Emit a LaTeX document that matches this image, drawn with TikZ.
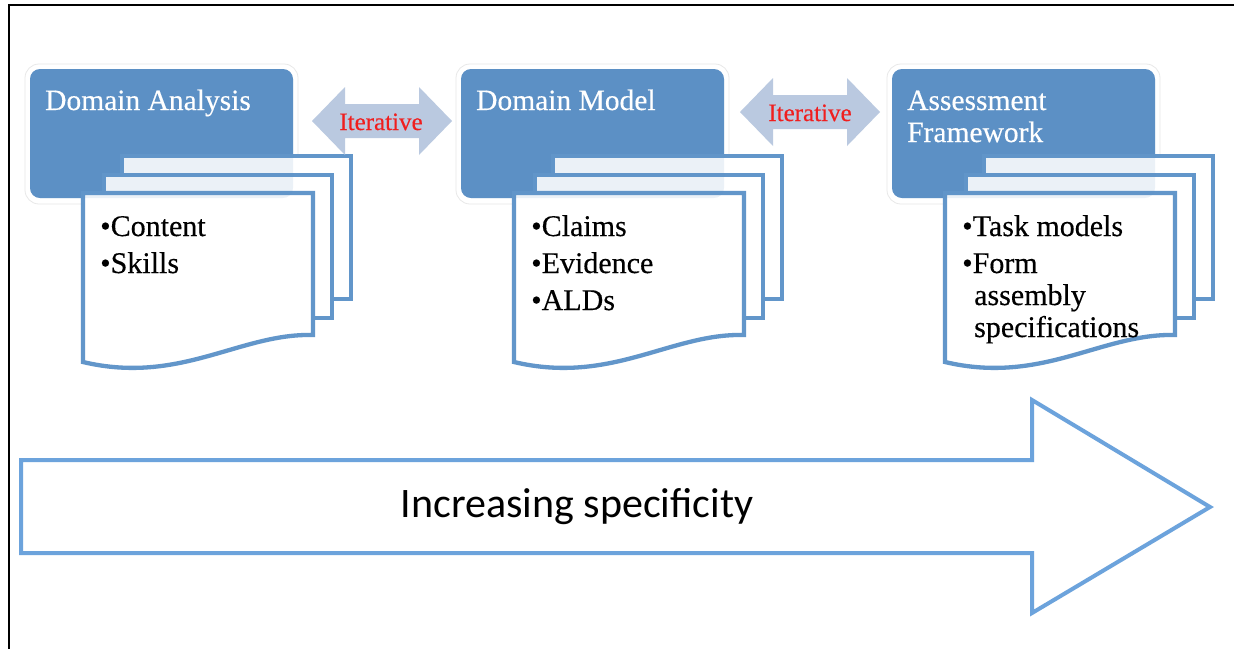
\documentclass[tikz,border=0pt]{standalone}
\usepackage{fontspec}
\setmainfont{Liberation Serif}
\newfontfamily\heavyserif[FakeBold=0.35]{Liberation Serif}
\newfontfamily\calib{Carlito}
\begin{document}
\begin{tikzpicture}[x=1pt,y=-1pt]
\definecolor{boxblue}{RGB}{92,144,197}
\definecolor{pageblue}{RGB}{98,150,202}
\definecolor{arrowblue}{RGB}{108,163,220}
\definecolor{iterfill}{RGB}{186,201,224}
\definecolor{itertext}{RGB}{240,30,30}
\tikzset{
 headbox/.style={fill=boxblue, rounded corners=10pt},
 tintbox/.style={fill=boxblue, fill opacity=0.12, rounded corners=10pt},
 glowbox/.style={draw=black!9, line width=0.8pt, rounded corners=14pt},
 pagebox/.style={draw=pageblue, line width=4.3pt, fill=white},
 titletext/.style={anchor=base west, text=white, font=\heavyserif\fontsize{29.5}{32}\selectfont, inner sep=0pt},
 itemtext/.style={anchor=base west, text=black, font=\heavyserif\fontsize{30}{32}\selectfont, inner sep=0pt},
 itertxt/.style={anchor=base, text=itertext, font=\heavyserif\fontsize{25}{28}\selectfont, inner sep=0pt},
 iterarrow/.style={fill=iterfill},
 bigarrow/.style={draw=arrowblue, line width=4pt, fill=white},
 bigtext/.style={anchor=base, text=black, font=\calib\fontsize{42}{48}\selectfont, inner sep=0pt}
}
\useasboundingbox (0,0) rectangle (1234,649);
\fill[white] (0,0) rectangle (1234,649);
% frame
\draw[black, line width=2pt] (1234,5) -- (9,5) -- (9,649);
% three groups
\foreach \L in {30,461,892}{
  \draw[glowbox] (\L-5,64) rectangle (\L+268,204);
  \fill[headbox] (\L,69) rectangle (\L+263,198);
  \draw[pagebox] (\L+92,156) rectangle (\L+321,299);
  \draw[pagebox] (\L+74,175) rectangle (\L+302,318);
  \draw[pagebox] (\L+53,193) -- (\L+283,193) -- (\L+283,335)
     .. controls (\L+210,333) and (\L+150,385) .. (\L+53,362) -- cycle;
  \fill[tintbox] (\L,69) rectangle (\L+263,198);
}
% titles
\node[titletext] (t1) at (45,110) {Domain Analysis};
\node[titletext] (t2) at (476,110) {Domain Model};
\node[titletext] (t3a) at (907,110) {Assessment};
\node[titletext] (t3b) at (907,142) {Framework};
% items
\node[itemtext] (a1) at (100,236) {•Content};
\node[itemtext] (a2) at (100,273) {•Skills};
\node[itemtext] (b1) at (531,236) {•Claims};
\node[itemtext] (b2) at (531,273) {•Evidence};
\node[itemtext] (b3) at (531,310) {•ALDs};
\node[itemtext] (c1) at (962,236) {•Task models};
\node[itemtext] (c2) at (962,273) {•Form};
\node[itemtext] (c3) at (974,305) {assembly};
\node[itemtext] (c4) at (974,337) {specifications};
% iterative arrows
\fill[iterarrow] (312,121) -- (345,87) -- (345,104) -- (419,104) -- (419,87) -- (452,121)
  -- (419,155) -- (419,138) -- (345,138) -- (345,155) -- cycle;
\node[itertxt] (it1) at (381,130) {Iterative};
\fill[iterarrow] (740,112) -- (773,78) -- (773,95) -- (847,95) -- (847,78) -- (880,112)
  -- (847,146) -- (847,129) -- (773,129) -- (773,146) -- cycle;
\node[itertxt] (it2) at (810,121) {Iterative};
% big arrow
\draw[bigarrow] (21,460) -- (1032,460) -- (1032,400) -- (1210,507) -- (1032,613)
  -- (1032,553) -- (21,553) -- cycle;
\node[bigtext] (spec) at (577,517) {Increasing specificity};
\end{tikzpicture}
\end{document}
